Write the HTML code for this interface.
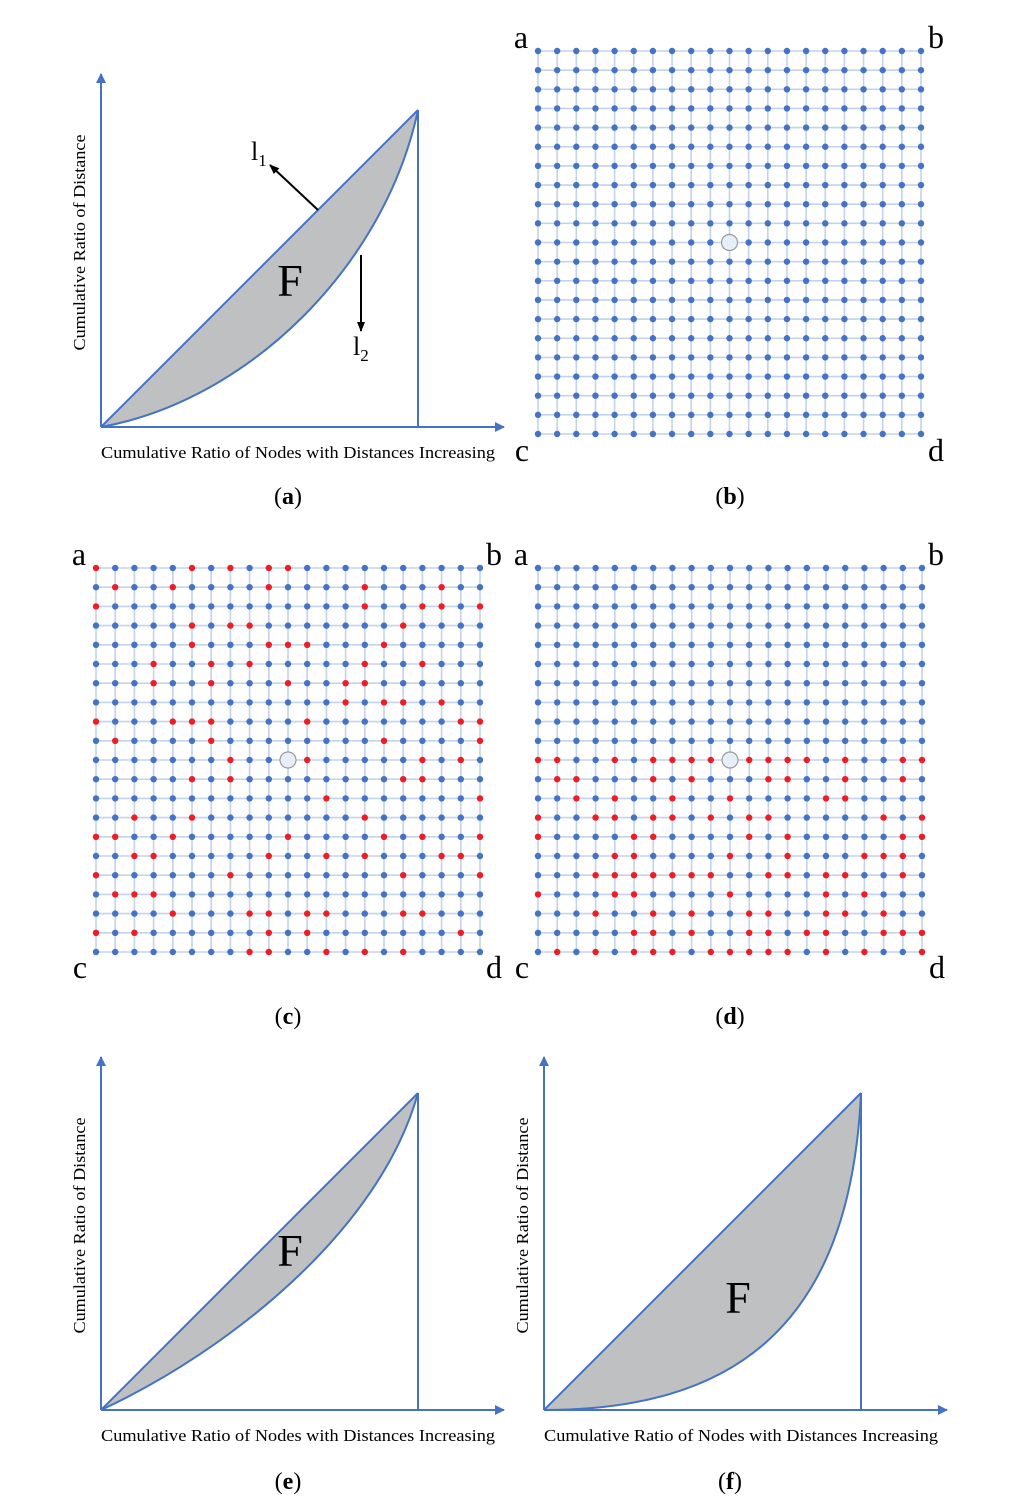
<!DOCTYPE html>
<html><head><meta charset="utf-8"><style>
html,body{margin:0;padding:0;background:#fff;}
svg{display:block;font-family:"Liberation Serif",serif;}
</style></head><body>
<svg id="fig" width="1024" height="1512" viewBox="0 0 1024 1512" xmlns="http://www.w3.org/2000/svg">
<defs>
<marker id="ab" markerWidth="10" markerHeight="10" refX="9" refY="5" orient="auto" markerUnits="userSpaceOnUse"><path d="M0,0 L10,5 L0,10 z" fill="#4472c4"/></marker>
<marker id="ak" markerWidth="10" markerHeight="10" refX="9" refY="5" orient="auto" markerUnits="userSpaceOnUse"><path d="M0,1 L10,5 L0,9 z" fill="#000"/></marker>
</defs>
<g id="panels"></g>
<g font-size="24" text-anchor="middle">
<text x="288" y="504">(<tspan font-weight="bold">a</tspan>)</text>
<text x="730" y="504">(<tspan font-weight="bold">b</tspan>)</text>
<text x="288" y="1024">(<tspan font-weight="bold">c</tspan>)</text>
<text x="730" y="1024">(<tspan font-weight="bold">d</tspan>)</text>
<text x="288" y="1489">(<tspan font-weight="bold">e</tspan>)</text>
<text x="730" y="1489">(<tspan font-weight="bold">f</tspan>)</text>
</g>
</svg>
<script>
const gridSize = 21;
const redC = [[0,5,7,9,10],[1,4,9,14,18],[0,14,17,18,20],[5,7,8,16],[5,9,10,11,15],[3,6,8,14,17],[3,6,10,13,14],[13,15,16,18],[0,4,5,6,11,19,20],[1,6,15,20],[7,11,17,19],[5,7,16,17],[12,20],[2,5,14],[0,1,4,10,15,17,20],[2,3,9,12,14,18,19],[0,7,16,20],[1,2,3],[4,8,9,11,12,16,17],[0,2,9,11,19],[8,9,12,14,16]];
const redD = [[],[],[],[],[],[],[],[],[],[],[0,1,4,6,7,8,9,11,12,13,14,16,19,20],[1,2,6,8,12,13,16,19],[2,4,7,10,15,16],[0,3,4,6,7,9,11,12,18,20],[0,5,6,11,13,19,20],[4,5,10,13,17,18,19],[3,4,5,6,7,8,9,12,13,15,16,19],[0,4,5,10,15,17],[3,6,8,11,12,15,16,18],[5,6,8,11,12,14,15,18,19,20],[1,3,5,6,7,9,10,11,12,13,15,17,20]];
const redB = [];
const NS="http://www.w3.org/2000/svg";
const root=document.getElementById('panels');
function mk(tag,attrs,parent){const e=document.createElementNS(NS,tag);for(const k in attrs)e.setAttribute(k,attrs[k]);parent.appendChild(e);return e;}
function grid(name,x0,y0,size,red,labels){
  const g=mk('g',{},root);
  
  
  const st=size/(gridSize-1);
  const sx=i=>x0+i*st, sy=j=>y0+j*st;
  for(let i=0;i<gridSize;i++){
    const l1=mk('line',{x1:sx(i),y1:sy(0),x2:sx(i),y2:sy(gridSize-1),stroke:'#c3d3ec','stroke-width':1.6},g);
    
    
    const l2=mk('line',{x1:sx(0),y1:sy(i),x2:sx(gridSize-1),y2:sy(i),stroke:'#c3d3ec','stroke-width':1.6},g);
    
    
  }
  const c=Math.floor(gridSize/2);
  for(let j=0;j<gridSize;j++)for(let i=0;i<gridSize;i++){
    if(i===c&&j===c)continue;
    const isRed=red[j]&&red[j].indexOf(i)>=0;
    const d=mk('circle',{cx:sx(i),cy:sy(j),r:3.2,fill:isRed?'#ee1c25':'#4472c4'},g);
    
    
  }
  const cc=mk('circle',{cx:sx(c),cy:sy(c),r:8,fill:'#e8eef8',stroke:'#999','stroke-width':1.2},g);
  
  
  const L=['a','b','c','d'];
  labels.forEach((p,k)=>{
    const t=mk('text',{x:p[0],y:p[1],'font-size':32,'text-anchor':'middle'},g);
    t.textContent=L[k];
    
    
  });
}
grid('grid-panel-b',538,51,383,redB,[[521,48],[936,48],[522,461],[936,461]]);
grid('grid-panel-c',96,568,384,redC,[[79,565],[494,565],[80,978],[494,978]]);
grid('grid-panel-d',538,568,384,redD,[[521,565],[936,565],[522,978],[937,978]]);

function lorenz(name,ox,oy,top,curve,fpos,arrows){
  const g=mk('g',{},root);
  
  
  const right=ox+317;
  const area=mk('path',{d:`M${ox},${oy} L${right},${top} C${curve[2][0]},${curve[2][1]} ${curve[1][0]},${curve[1][1]} ${ox},${oy} Z`,fill:'#bfc0c2',stroke:'none'},g);
  
  
  const diag=mk('line',{x1:ox,y1:oy,x2:right,y2:top,stroke:'#4472c4','stroke-width':2},g);
  
  
  const cur=mk('path',{d:`M${ox},${oy} C${curve[1][0]},${curve[1][1]} ${curve[2][0]},${curve[2][1]} ${right},${top}`,fill:'none',stroke:'#4472c4','stroke-width':2},g);
  
  
  const v=mk('line',{x1:right,y1:top,x2:right,y2:oy,stroke:'#4472c4','stroke-width':2},g);
  
  
  const ya=mk('line',{x1:ox,y1:oy,x2:ox,y2:top-36,stroke:'#4472c4','stroke-width':2,'marker-end':'url(#ab)'},g);
  
  
  const xa=mk('line',{x1:ox,y1:oy,x2:ox+403,y2:oy,stroke:'#4472c4','stroke-width':2,'marker-end':'url(#ab)'},g);
  
  
  const yt=mk('text',{x:0,y:0,'font-size':16.5,'text-anchor':'middle',textLength:216,lengthAdjust:'spacingAndGlyphs',transform:`translate(${ox-16},${(oy+top)/2-26}) rotate(-90)`},g);
  yt.textContent='Cumulative Ratio of Distance';
  
  
  const xt=mk('text',{x:ox,y:oy+31,'font-size':16.5,textLength:394,lengthAdjust:'spacingAndGlyphs'},g);
  xt.textContent='Cumulative Ratio of Nodes with Distances Increasing';
  
  
  const f=mk('text',{x:fpos[0],y:fpos[1],'font-size':46,'text-anchor':'middle'},g);
  f.textContent='F';
  
  
  if(arrows){
    const a1=mk('line',{x1:318,y1:210,x2:270,y2:165,stroke:'#000','stroke-width':2,'marker-end':'url(#ak)'},g);
    
    
    const a2=mk('line',{x1:361,y1:255,x2:361,y2:331,stroke:'#000','stroke-width':2,'marker-end':'url(#ak)'},g);
    
    
    const t1=mk('text',{x:251,y:160,'font-size':26},g);
    t1.innerHTML='l<tspan font-size="17" dy="6">1</tspan>';
    
    
    const t2=mk('text',{x:353,y:355,'font-size':26},g);
    t2.innerHTML='l<tspan font-size="17" dy="6">2</tspan>';
    
    
  }
}
lorenz('lorenz-panel-a',101,427,110,[[101,427],[250,400],[385,265]],[290,296],true);
lorenz('lorenz-panel-e',101,1410,1093,[[101,1410],[230,1350],[380,1230]],[290,1266],false);
lorenz('lorenz-panel-f',544,1410,1093,[[544,1410],[730,1410],[850,1330]],[738,1313],false);
</script>
</body></html>
